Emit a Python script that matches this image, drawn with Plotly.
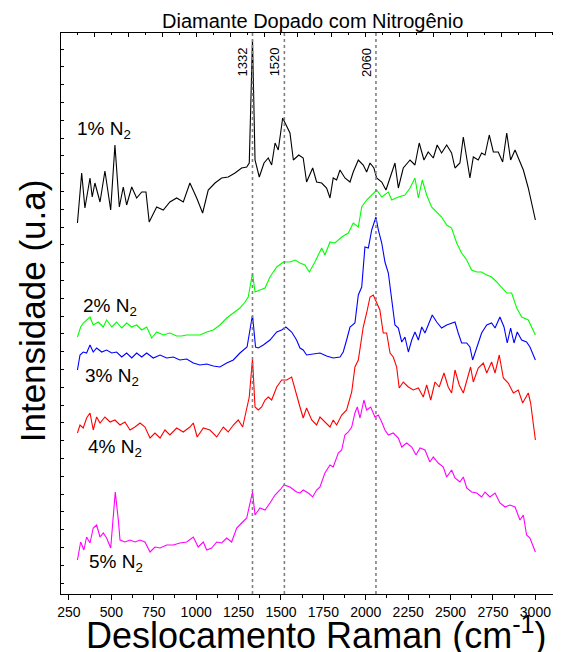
import plotly.graph_objects as go

# ---------------- data (Raman shift in cm^-1, intensity in arbitrary units, offset stacked) -------------
x_1 = [300,325,344,374,387,403,433,462,496,521,547,570,590,620,649,679,704,723,767,806,845,885,924,963,1003,1038,1071,1111,1150,1189,1229,1268,1298,1313,1332,1347,1372,1400,1425,1445,1465,1484,1510,1534,1553,1573,1605,1631,1651,1687,1710,1740,1769,1789,1808,1828,1848,1877,1907,1926,1956,1985,2005,2025,2048,2064,2094,2119,2143,2172,2192,2221,2261,2290,2315,2343,2368,2398,2421,2447,2477,2506,2526,2555,2575,2595,2614,2634,2663,2683,2703,2728,2752,2781,2807,2831,2854,2880,2909,2929,2958,3000]
y_1 = [377,427,392,422,403,417,398,429,390,455,393,413,395,413,402,408,408,378,393,390,398,402,398,417,402,387,410,417,422,423,427,432,433,437,561,440,423,437,442,435,457,450,482,473,467,440,445,442,418,432,418,417,412,402,422,420,430,422,418,428,440,435,428,437,432,422,418,410,422,437,412,432,440,435,457,440,448,442,455,447,455,447,432,437,463,440,422,443,440,447,445,465,448,448,438,467,440,450,438,430,412,380]

x_2 = [300,319,334,354,374,393,423,452,472,502,531,561,590,620,649,679,708,738,767,806,845,885,914,944,983,1022,1062,1101,1140,1180,1219,1258,1288,1307,1332,1347,1376,1406,1435,1475,1514,1553,1583,1612,1641,1667,1700,1740,1759,1789,1818,1858,1897,1926,1956,1976,2005,2035,2064,2094,2133,2153,2192,2231,2261,2290,2310,2333,2359,2388,2418,2447,2477,2506,2536,2565,2595,2624,2654,2683,2713,2742,2772,2801,2831,2860,2890,2919,2958,3000]
y_2 = [263,273,277,280,283,275,278,273,280,273,278,272,277,273,275,270,273,262,268,265,267,264,264,265,265,265,268,270,275,282,287,292,298,303,327,308,310,312,323,333,338,338,340,337,335,328,338,352,345,358,357,363,367,377,373,393,400,405,410,403,408,400,403,405,412,422,402,420,405,393,388,383,375,372,357,347,340,330,328,328,325,323,318,313,307,307,292,283,280,265]

x_3 = [300,315,334,354,374,393,413,443,472,502,531,561,590,620,649,679,708,747,787,826,865,904,944,983,1022,1062,1101,1140,1180,1219,1258,1282,1300,1332,1350,1366,1396,1435,1475,1504,1529,1563,1592,1612,1631,1651,1690,1730,1769,1808,1848,1867,1887,1907,1936,1956,1976,1995,2015,2035,2060,2074,2094,2113,2133,2153,2172,2192,2212,2231,2251,2271,2290,2310,2330,2349,2368,2392,2418,2447,2477,2506,2526,2545,2565,2595,2614,2630,2654,2683,2713,2742,2762,2791,2815,2834,2854,2874,2893,2919,2948,2968,3000]
y_3 = [230,245,248,247,255,248,252,248,250,247,248,243,247,242,247,243,247,242,245,242,243,240,241,237,235,236,234,233,237,240,247,250,253,285,253,252,255,260,268,270,273,268,260,252,250,245,246,247,244,242,243,248,260,273,277,305,313,353,352,370,383,370,357,338,327,300,275,272,258,263,248,260,268,260,273,267,275,285,278,272,275,277,278,267,257,257,253,240,252,267,275,277,272,283,273,257,272,257,268,260,258,253,240]

x_4 = [300,315,334,354,374,393,413,433,462,492,521,551,580,610,639,669,698,728,757,787,816,845,885,924,963,983,1006,1042,1081,1121,1160,1189,1219,1248,1274,1298,1313,1332,1347,1366,1386,1406,1425,1445,1475,1504,1534,1563,1583,1612,1631,1651,1681,1710,1730,1759,1789,1808,1828,1858,1887,1917,1936,1956,1985,2005,2025,2044,2064,2083,2103,2123,2143,2162,2182,2197,2221,2251,2280,2310,2339,2359,2383,2408,2433,2461,2486,2506,2526,2551,2575,2595,2618,2634,2663,2693,2713,2742,2762,2787,2811,2840,2870,2899,2925,2958,2972,3000]
y_4 = [167,175,172,182,187,170,183,177,183,178,180,175,178,170,173,177,173,162,167,162,170,165,172,168,173,177,163,172,170,163,173,168,175,180,173,190,203,241,193,190,193,200,203,200,213,220,220,223,210,193,182,192,180,175,183,178,173,180,175,185,190,208,233,240,273,287,303,305,297,290,267,267,247,243,233,212,218,213,210,212,203,215,200,218,213,227,213,207,230,215,207,220,233,218,232,237,227,238,227,245,222,217,207,210,197,207,197,160]

x_5 = [300,319,338,354,374,393,413,433,452,472,496,511,523,541,551,580,610,639,669,698,728,757,787,826,865,904,944,983,1012,1042,1062,1091,1121,1150,1180,1209,1239,1268,1298,1332,1347,1376,1406,1435,1465,1494,1518,1553,1592,1612,1631,1661,1687,1710,1730,1759,1789,1808,1838,1858,1877,1897,1917,1936,1950,1966,1989,2005,2029,2054,2074,2094,2113,2133,2162,2192,2212,2241,2271,2296,2320,2349,2378,2398,2427,2457,2477,2506,2526,2555,2575,2595,2624,2654,2683,2703,2732,2762,2791,2821,2850,2880,2909,2929,2948,2968,3000]
y_5 = [40,58,50,63,57,72,75,63,67,62,52,80,108,80,60,58,60,58,60,58,48,53,52,55,55,57,58,63,53,58,50,52,58,57,62,58,72,77,82,108,85,92,90,97,105,110,115,113,108,107,110,107,103,110,113,127,135,133,147,150,165,168,173,187,193,182,200,190,193,183,185,178,170,165,167,162,153,157,153,145,152,150,138,143,137,133,123,130,122,118,123,112,108,107,103,108,103,107,97,93,95,93,80,85,65,62,48]

series_names = ["1% N<sub>2</sub>", "2% N<sub>2</sub>", "3% N<sub>2</sub>", "4% N<sub>2</sub>", "5% N<sub>2</sub>"]
series_colors = ["#000000", "#00ff00", "#0000ff", "#ff0000", "#ff00ff"]
label_x = [288, 318, 330, 353, 359]
label_y = [470, 293, 223, 152, 37]

peak_positions = [1332, 1520, 2060]
peak_labels = ["1332", "1520", "2060"]

title_text = "Diamante Dopado com Nitrogênio"
x_title = "Deslocamento Raman (cm<sup>-1</sup>)"
y_title = "Intensidade (u.a)"

X_RANGE = [203, 3151]
Y_RANGE = [6, 567]

FONT = "Liberation Sans, Arial, sans-serif"

fig = go.Figure()
for xs, ys, c, n in zip([x_1, x_2, x_3, x_4, x_5], [y_1, y_2, y_3, y_4, y_5], series_colors, series_names):
    fig.add_trace(go.Scatter(x=xs, y=ys, mode="lines", line=dict(color=c, width=1.1), name=n,
                             showlegend=False, hoverinfo="skip"))

shapes = []
for p in peak_positions:
    shapes.append(dict(type="line", xref="x", yref="paper", x0=p, x1=p, y0=0, y1=1,
                       line=dict(color="#808080", width=1.6, dash="dot"), layer="above"))

annotations = []
for p, t in zip(peak_positions, peak_labels):
    annotations.append(dict(x=p, y=538, xref="x", yref="y", text=t, showarrow=False, textangle=-90,
                            xshift=-10, font=dict(family=FONT, size=13, color="black"),
                            xanchor="center", yanchor="middle"))
for t, lx, ly in zip(series_names, label_x, label_y):
    annotations.append(dict(x=lx, y=ly, xref="x", yref="y", text=t, showarrow=False,
                            xanchor="left", yanchor="middle",
                            font=dict(family=FONT, size=19, color="black")))
annotations.append(dict(x=0.502, y=1.022, xref="paper", yref="paper", text=title_text, showarrow=False,
                        xanchor="center", yanchor="middle", font=dict(family=FONT, size=20, color="black")))
annotations.append(dict(x=0.51, y=-0.07, xref="paper", yref="paper", text=x_title, showarrow=False,
                        xanchor="center", yanchor="middle", font=dict(family=FONT, size=36, color="black")))
annotations.append(dict(x=-0.058, y=0.504, xref="paper", yref="paper", text=y_title, showarrow=False,
                        textangle=-90, xanchor="center", yanchor="middle",
                        font=dict(family=FONT, size=35, color="black")))

fig.update_layout(
    width=553, height=644,
    margin=dict(l=53, r=0, t=25, b=58),
    paper_bgcolor="white", plot_bgcolor="white",
    font=dict(family=FONT, color="black"),
    shapes=shapes, annotations=annotations,
    xaxis=dict(range=X_RANGE, showgrid=False, zeroline=False, showline=True, linecolor="black", linewidth=1,
               ticks="outside", tick0=250, dtick=250, ticklen=5, tickcolor="black", tickwidth=1,
               tickfont=dict(family=FONT, size=14, color="black"),
               minor=dict(dtick=125, tick0=125, ticks="outside", ticklen=3, tickcolor="black")),
    xaxis2=dict(range=X_RANGE, overlaying="x", side="top", anchor="y", showgrid=False, zeroline=False,
                showline=True, linecolor="black", linewidth=1, ticks="inside", tick0=0, dtick=200,
                ticklen=4, tickcolor="black", showticklabels=False,
                minor=dict(dtick=100, tick0=0, ticks="inside", ticklen=2, tickcolor="black")),
    yaxis=dict(range=Y_RANGE, showgrid=False, zeroline=False, showline=True, linecolor="black", linewidth=1,
               ticks="inside", tick0=17, dtick=17.8, ticklen=3, tickcolor="black", showticklabels=False),
)
# invisible trace so the top axis is rendered
fig.add_trace(go.Scatter(x=[X_RANGE[0]], y=[Y_RANGE[0]], xaxis="x2", mode="markers",
                         marker=dict(opacity=0), showlegend=False, hoverinfo="skip"))

fig.write_html("out.html")
